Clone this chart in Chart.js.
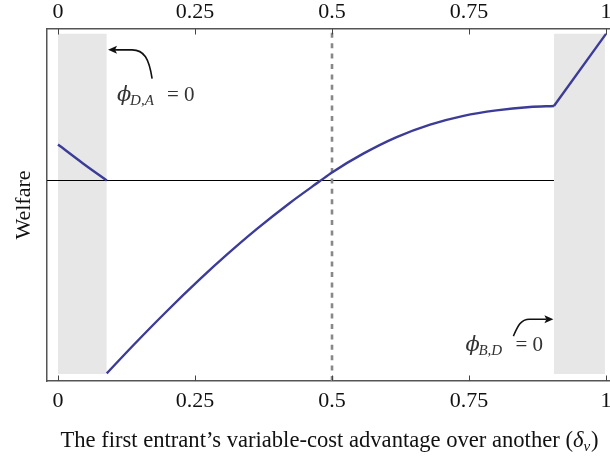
<!DOCTYPE html>
<html>
<head>
<meta charset="utf-8">
<script src="https://cdn.jsdelivr.net/npm/chart.js@4.4.1/dist/chart.umd.min.js"></script>
<style>
  html, body { margin: 0; padding: 0; background: #fff; }
  #wrap { width: 610px; height: 459px; }
</style>
</head>
<body>
<div id="wrap"><canvas id="chart" width="610" height="459"></canvas></div>
<script>
// values (y in arbitrary welfare units, 0 = break-even)
const xTicks = [0, 0.25, 0.5, 0.75, 1];
const xTickLabels = ['0', '0.25', '0.5', '0.75', '1'];

const leftBranchX = [0, 0.045, 0.089];
const leftBranchY = [0.245, 0.118, 0];

const middleBranchX = [0.089, 0.137, 0.198, 0.259, 0.308, 0.363, 0.423, 0.478, 0.5, 0.557, 0.618, 0.679, 0.74, 0.8, 0.861, 0.905];
const middleBranchY = [-1.315, -1.125, -0.893, -0.673, -0.506, -0.33, -0.153, -0.004, 0.055, 0.183, 0.296, 0.381, 0.441, 0.478, 0.501, 0.508];

const rightBranchX = [0.905, 1.0];
const rightBranchY = [0.508, 1.0];

const shadedBands = [[0, 0.089], [0.905, 0.998]];
const bandTop = 1.0;
const bandBottom = -1.32;

const zeroLineX = [-0.02, 0.905];
const referenceX = 0.5;

const xMin = -0.0201, xMax = 1.0073;
const yMin = -1.367, yMax = 1.033;

// annotation anchors in data units
const noteDA = { text: [0.1078, 0.544], from: [0.1717, 0.694], tip: [0.0913, 0.891], sub: 'D,A' };
const noteBD = { text: [0.7434, -1.163], from: [0.831, -1.061], tip: [0.904, -0.946], sub: 'B,D' };

const pts = (xs, ys) => xs.map((x, i) => ({ x, y: ys[i] }));

const CURVE = '#3c3c98';
const SERIF = '"Liberation Serif", "Times New Roman", serif';

const datasets = [];
shadedBands.forEach(([a, b]) => {
  datasets.push({
    data: [{ x: a, y: bandTop }, { x: b, y: bandTop }],
    borderWidth: 0, pointRadius: 0,
    backgroundColor: '#e7e7e7',
    fill: { value: bandBottom },
    order: 10
  });
});
datasets.push({
  data: pts(zeroLineX, [0, 0]),
  borderColor: '#000', borderWidth: 1, pointRadius: 0, fill: false, order: 5
});
datasets.push({
  data: [{ x: referenceX, y: yMin }, { x: referenceX, y: yMax }],
  borderColor: '#888', borderWidth: 2.6, borderDash: [5, 5.4], pointRadius: 0, fill: false, order: 4
});
[[leftBranchX, leftBranchY], [middleBranchX, middleBranchY], [rightBranchX, rightBranchY]].forEach(([xs, ys]) => {
  datasets.push({
    data: pts(xs, ys),
    borderColor: CURVE, borderWidth: 2.4, pointRadius: 0, fill: false,
    cubicInterpolationMode: 'monotone', order: 1
  });
});

function noPad(scale) { scale.paddingLeft = 0; scale.paddingRight = 0; }

function drawNote(ctx, x, y, note) {
  const tx = x.getPixelForValue(note.text[0]);
  const ty = y.getPixelForValue(note.text[1]);
  ctx.fillStyle = '#333';
  ctx.textBaseline = 'alphabetic';
  ctx.textAlign = 'left';
  ctx.font = 'italic 21px "DejaVu Serif", serif';
  ctx.fillText('\u03D5', tx, ty);
  ctx.font = 'italic 15px ' + SERIF;
  ctx.fillText(note.sub, tx + 13, ty + 4);
  ctx.font = '21px ' + SERIF;
  ctx.fillText('=', tx + 50, ty);
  ctx.fillText('0', tx + 67, ty);
}

function arrowHead(ctx, px, py, dir) {
  ctx.beginPath();
  ctx.moveTo(px, py);
  ctx.lineTo(px - dir * 9, py - 4);
  ctx.lineTo(px - dir * 7, py);
  ctx.lineTo(px - dir * 9, py + 4);
  ctx.closePath();
  ctx.fill();
}

const overlay = {
  id: 'overlay',
  afterDraw(chart) {
    const { ctx, scales: { x, y } } = chart;
    ctx.save();
    // inward tick marks on bottom and top axes
    ctx.strokeStyle = '#444';
    ctx.lineWidth = 1;
    xTicks.forEach(v => {
      const px = Math.round(x.getPixelForValue(v)) + 0.5;
      ctx.beginPath();
      ctx.moveTo(px, y.bottom); ctx.lineTo(px, y.bottom - 5.5);
      ctx.moveTo(px, y.top); ctx.lineTo(px, y.top + 5.5);
      ctx.stroke();
    });

    // annotations
    drawNote(ctx, x, y, noteDA);
    drawNote(ctx, x, y, noteBD);
    ctx.strokeStyle = '#111';
    ctx.fillStyle = '#111';
    ctx.lineWidth = 1.6;

    let sx = x.getPixelForValue(noteDA.from[0]), sy = y.getPixelForValue(noteDA.from[1]);
    let ex = x.getPixelForValue(noteDA.tip[0]), ey = y.getPixelForValue(noteDA.tip[1]);
    ctx.beginPath();
    ctx.moveTo(sx, sy);
    ctx.bezierCurveTo(sx - 3, sy - 20, sx - 8, ey, sx - 20, ey);
    ctx.lineTo(ex + 7, ey);
    ctx.stroke();
    arrowHead(ctx, ex, ey, -1);

    sx = x.getPixelForValue(noteBD.from[0]); sy = y.getPixelForValue(noteBD.from[1]);
    ex = x.getPixelForValue(noteBD.tip[0]); ey = y.getPixelForValue(noteBD.tip[1]);
    ctx.beginPath();
    ctx.moveTo(sx, sy);
    ctx.bezierCurveTo(sx + 4, sy - 9, sx + 7, ey, sx + 16, ey);
    ctx.lineTo(ex - 7, ey);
    ctx.stroke();
    arrowHead(ctx, ex, ey, 1);

    // x axis title with italic delta and subscript v
    const fs = 22.6;
    const main = 'The first entrant\u2019s variable-cost advantage over another (';
    ctx.fillStyle = '#111';
    ctx.font = fs + 'px ' + SERIF;
    const w1 = ctx.measureText(main).width;
    const w4 = ctx.measureText(')').width;
    ctx.font = 'italic ' + fs + 'px ' + SERIF;
    const w2 = ctx.measureText('\u03B4').width;
    ctx.font = 'italic 15px ' + SERIF;
    const w3 = ctx.measureText('v').width;
    const total = w1 + w2 + w3 + 1 + w4;
    let cx = (x.left + x.right) / 2 + 1 - total / 2;
    const base = 447;
    ctx.font = fs + 'px ' + SERIF;
    ctx.fillText(main, cx, base); cx += w1;
    ctx.font = 'italic ' + fs + 'px ' + SERIF;
    ctx.fillText('\u03B4', cx, base); cx += w2;
    ctx.font = 'italic 15px ' + SERIF;
    ctx.fillText('v', cx, base + 4); cx += w3 + 1;
    ctx.font = fs + 'px ' + SERIF;
    ctx.fillText(')', cx, base);
    ctx.restore();
  }
};

const tickFont = { family: SERIF, size: 22 };

new Chart(document.getElementById('chart'), {
  type: 'line',
  data: { datasets },
  options: {
    responsive: false,
    animation: false,
    devicePixelRatio: 1,
    layout: { padding: 0 },
    plugins: { legend: { display: false }, tooltip: { enabled: false } },
    elements: { line: { tension: 0 } },
    scales: {
      x: {
        type: 'linear', position: 'bottom', min: xMin, max: xMax,
        grid: { display: false, drawTicks: false },
        border: { display: true, color: '#555', width: 1.5 },
        afterBuildTicks: s => { s.ticks = xTicks.map(v => ({ value: v })); },
        ticks: { padding: 7, color: '#111', font: tickFont, maxRotation: 0,
                 callback: (v) => xTickLabels[xTicks.indexOf(v)] },
        afterFit: s => { noPad(s); s.height = 78; }
      },
      x2: {
        type: 'linear', position: 'top', min: xMin, max: xMax,
        grid: { display: false, drawTicks: false },
        border: { display: true, color: '#555', width: 1.5 },
        afterBuildTicks: s => { s.ticks = xTicks.map(v => ({ value: v })); },
        ticks: { padding: 4, color: '#111', font: tickFont, maxRotation: 0,
                 callback: (v) => xTickLabels[xTicks.indexOf(v)] },
        afterFit: s => { noPad(s); s.height = 29; }
      },
      y: {
        type: 'linear', position: 'left', min: yMin, max: yMax,
        grid: { display: false, drawTicks: false },
        border: { display: true, color: '#555', width: 1.5 },
        ticks: { display: false },
        title: { display: true, text: 'Welfare', color: '#111', font: { family: SERIF, size: 22 }, padding: { top: 11, bottom: 0 } },
        afterFit: s => { s.width = 47; }
      }
    }
  },
  plugins: [overlay]
});
</script>
</body>
</html>
